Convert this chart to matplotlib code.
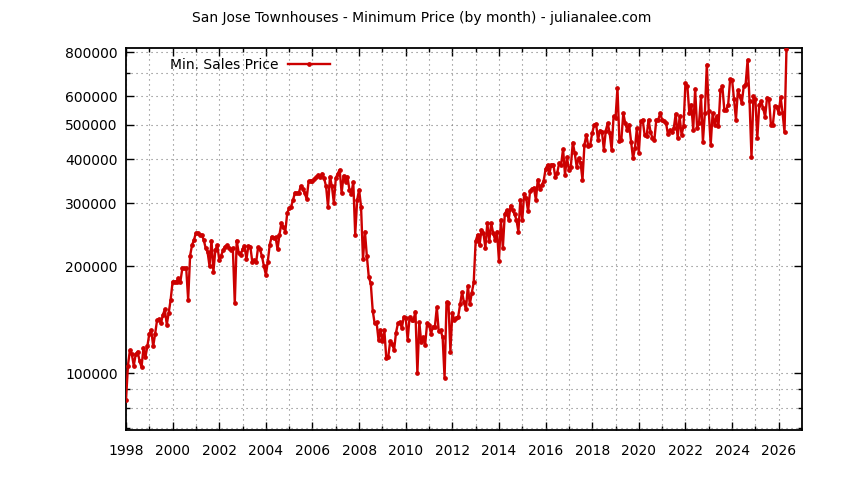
import matplotlib
matplotlib.use("Agg")
import matplotlib.pyplot as plt
from matplotlib.ticker import FixedLocator, FixedFormatter, NullFormatter
import numpy as np

# ---- data (monthly minimum townhouse sales price, thousands of $) ----
start_year = 1998
prices_k = [
    84, 105, 116, 113, 105, 113, 115, 108, 104, 118, 111, 119,   # 1998
    129, 132, 119, 129, 141, 142, 138, 146, 151, 137, 148, 161,  # 1999
    181, 181, 181, 185, 181, 197, 197, 197, 161, 214, 229, 237,  # 2000
    248, 248, 245, 245, 237, 225, 219, 200, 236, 193, 222, 229,  # 2001
    208, 214, 222, 227, 229, 225, 222, 225, 157, 236, 218, 215,  # 2002
    223, 228, 209, 228, 227, 206, 208, 205, 226, 223, 213, 200,  # 2003
    189, 206, 230, 242, 240, 241, 223, 245, 264, 258, 250, 282,  # 2004
    291, 294, 307, 322, 321, 322, 336, 329, 321, 309, 346, 348,  # 2005
    348, 351, 356, 361, 356, 364, 353, 335, 294, 357, 335, 301,  # 2006
    353, 364, 373, 321, 359, 345, 357, 328, 319, 345, 245, 307,  # 2007
    328, 294, 209, 250, 213, 186, 179, 150, 138, 139, 124, 132,  # 2008
    123, 132, 110, 111, 123, 121, 116, 130, 138, 139, 134, 144,  # 2009
    143, 124, 144, 141, 141, 149, 100, 139, 122, 126, 120, 138,  # 2010
    137, 129, 135, 135, 153, 131, 132, 126, 97, 158, 157, 115,   # 2011
    148, 141, 143, 144, 156, 169, 158, 151, 176, 156, 168, 180,  # 2012
    235, 245, 229, 253, 248, 225, 264, 235, 264, 248, 237, 250,  # 2013
    207, 270, 225, 280, 287, 270, 296, 287, 280, 270, 250, 307,  # 2014
    270, 320, 310, 285, 325, 330, 332, 307, 350, 330, 338, 347,  # 2015
    375, 385, 366, 386, 386, 356, 366, 390, 386, 427, 361, 405,  # 2016
    373, 381, 445, 416, 381, 402, 390, 350, 439, 468, 434, 439,  # 2017
    473, 499, 502, 453, 481, 478, 425, 481, 505, 473, 425, 527,  # 2018
    521, 633, 450, 453, 538, 505, 483, 500, 448, 402, 429, 489,  # 2019
    416, 511, 516, 466, 463, 516, 478, 458, 453, 516, 516, 538,  # 2020
    516, 511, 505, 469, 483, 478, 489, 536, 458, 527, 468, 494,  # 2021
    654, 640, 539, 569, 484, 630, 489, 505, 600, 448, 539, 737,  # 2022
    545, 439, 539, 500, 527, 494, 624, 640, 551, 551, 569, 671,  # 2023
    668, 590, 516, 624, 600, 575, 640, 651, 761, 581, 405, 600,  # 2024
    590, 458, 569, 581, 557, 525, 594, 590, 500, 500, 563, 560,  # 2025
    539, 597, 539, 476, 815,                                     # 2026
]
series_label = "Min. Sales Price"
title_text = "San Jose Townhouses - Minimum Price (by month) - julianalee.com"
y_major = [100000, 200000, 300000, 400000, 500000, 600000, 800000]
y_minor = [70000, 80000, 90000, 700000]
x_major = list(range(1998, 2027, 2))
x_minor = list(range(1999, 2027, 2))

prices = np.array(prices_k) * 1000.0
x = start_year + np.arange(len(prices)) / 12.0

# ---- figure ----
plt.rcParams['font.family'] = ['DejaVu Sans']
W, H = 844, 480
fig = plt.figure(figsize=(W / 100, H / 100), dpi=100)
L, R, T, B = 126, 802, 48, 430
ax = fig.add_axes([L / W, 1 - B / H, (R - L) / W, (B - T) / H])

red = '#cc0000'
ax.plot(x, prices, color=red, lw=1.7, marker='o', ms=2.4,
        mec=red, mfc=red, label=series_label, zorder=3)

ax.set_yscale('log')
ax.set_xlim(1998, 2027)
ax.set_ylim(69200, 821000)

ax.yaxis.set_major_locator(FixedLocator(y_major))
ax.yaxis.set_major_formatter(FixedFormatter([str(v) for v in y_major]))
ax.yaxis.set_minor_locator(FixedLocator(y_minor))
ax.yaxis.set_minor_formatter(NullFormatter())
ax.xaxis.set_major_locator(FixedLocator(x_major))
ax.xaxis.set_major_formatter(FixedFormatter([str(v) for v in x_major]))
ax.xaxis.set_minor_locator(FixedLocator(x_minor))
ax.xaxis.set_minor_formatter(NullFormatter())

ax.tick_params(axis='both', which='major', direction='in', length=6, width=1.0,
               top=True, right=True, labelsize=10, colors='black')
ax.tick_params(axis='both', which='minor', direction='in', length=3, width=1.0,
               top=True, right=True)
ax.tick_params(axis='y', which='major', pad=6)
ax.tick_params(axis='x', which='major', pad=10)

grid_kw = dict(color='#7a7a7a', lw=0.8, linestyle=(0, (1, 3.5)))
ax.grid(True, which='both', **grid_kw)
ax.set_axisbelow(True)

for s in ax.spines.values():
    s.set_linewidth(1.3)
    s.set_color('black')

fig.text(0.5, 1 - 18 / H, title_text, ha='center', va='center', fontsize=10)

ax.legend(loc='center left', bbox_to_anchor=(163 / W, 1 - 65 / H),
          bbox_transform=fig.transFigure, frameon=False, markerfirst=False,
          handlelength=3.0, handletextpad=0.7, borderpad=0, fontsize=10)

fig.savefig('out.png', dpi=100)
